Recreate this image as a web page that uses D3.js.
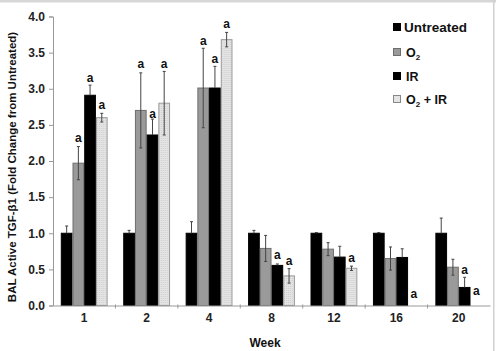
<!DOCTYPE html>
<html>
<head>
<meta charset="utf-8">
<script src="https://cdn.jsdelivr.net/npm/d3@7"></script>
<style>
  body { margin: 0; background: #fff; }
  svg { display: block; font-family: "Liberation Sans", Arial, sans-serif; font-weight: bold; }
</style>
</head>
<body>
<div id="viz"></div>
<script>
const width = 496;
const height = 351;
const margin = {top: 16.5, right: 6, bottom: 45.5, left: 53};

const weeks = ['1', '2', '4', '8', '12', '16', '20'];
const groups = ['Untreated', 'O2', 'IR', 'O2 + IR'];

// mean fold change per group, one entry per week
const untreated = [1.0, 1.0, 1.0, 1.0, 1.0, 1.0, 1.0];
const o2        = [1.97, 2.70, 3.01, 0.79, 0.78, 0.65, 0.53];
const ir        = [2.91, 2.36, 3.01, 0.555, 0.67, 0.665, 0.25];
const o2ir      = [2.60, 2.80, 3.68, 0.41, 0.515, 0, null];

// error bar half widths
const untreatedErr = [0.10, 0.04, 0.16, 0.04, 0.01, 0.01, 0.21];
const o2Err        = [0.23, 0.52, 0.55, 0.18, 0.09, 0.16, 0.11];
const irErr        = [0.14, 0.22, 0.30, 0.02, 0.15, 0.12, 0.14];
const o2irErr      = [0.06, 0.44, 0.10, 0.10, 0.03, 0, null];

// significance marks: week, bar slot, height (data units)
const sigWeek  = ['1', '1', '1', '2', '2', '2', '4', '4', '4', '8', '8', '12', '16', '20', '20'];
const sigSlot  = ['O2', 'IR', 'O2 + IR', 'O2', 'IR', 'O2 + IR', 'O2', 'IR', 'O2 + IR', 'IR', 'O2 + IR', 'O2 + IR', 'O2 + IR', 'IR', 'O2 + IR'];
const sigLevel = [2.32, 3.15, 2.78, 3.35, 2.66, 3.35, 3.67, 3.42, 3.90, 0.70, 0.62, 0.667, 0.16, 0.50, 0.205];

const yTicks = [0, 0.5, 1, 1.5, 2, 2.5, 3, 3.5, 4];

const series = [
  {name: 'Untreated', values: untreated, err: untreatedErr},
  {name: 'O2', values: o2, err: o2Err},
  {name: 'IR', values: ir, err: irErr},
  {name: 'O2 + IR', values: o2ir, err: o2irErr}
];

const fills = {'Untreated': '#000', 'O2': '#9a9a9a', 'IR': '#000', 'O2 + IR': 'url(#dots)'};
const strokes = {'Untreated': '#000', 'O2': '#6e6e6e', 'IR': '#000', 'O2 + IR': '#9a9a9a'};
const isDark = name => name === 'Untreated' || name === 'IR';

const svg = d3.select('#viz').append('svg')
  .attr('width', width)
  .attr('height', height);

// light dotted fill for O2 + IR
const pat = svg.append('defs').append('pattern')
  .attr('id', 'dots')
  .attr('width', 2).attr('height', 2)
  .attr('patternUnits', 'userSpaceOnUse');
pat.append('rect').attr('width', 2).attr('height', 2).attr('fill', '#e4e4e4');
pat.append('rect').attr('width', 1).attr('height', 1).attr('fill', '#cfcfcf');

// frame bits of the original screenshot
svg.append('rect').attr('x', 0).attr('y', 0).attr('width', width).attr('height', 2.5).attr('fill', '#d6d6d6');
svg.append('rect').attr('x', 493).attr('y', 0).attr('width', 1.5).attr('height', height).attr('fill', '#d0d0d0');

const x0 = d3.scaleBand()
  .domain(weeks)
  .range([margin.left, 490])
  .paddingInner(0.25)
  .paddingOuter(0.125);

const x1 = d3.scaleBand()
  .domain(groups)
  .range([0, x0.bandwidth()]);

const y = d3.scaleLinear()
  .domain([0, 4])
  .range([height - margin.bottom, margin.top]);

// y axis
const yAxis = svg.append('g')
  .attr('transform', `translate(${margin.left},0)`)
  .call(d3.axisLeft(y).tickValues(yTicks).tickFormat(d3.format('.1f')).tickSize(4).tickPadding(4));
yAxis.select('.domain').attr('stroke', '#999');
yAxis.selectAll('.tick line').attr('stroke', '#999');
yAxis.selectAll('.tick text').attr('font-size', 12).attr('font-weight', 'bold').attr('fill', '#222')
  .attr('font-family', '"Liberation Sans", Arial, sans-serif');

// bars
const bandStep = x0.step();
const weekG = svg.append('g').selectAll('g')
  .data(weeks)
  .join('g')
  .attr('transform', d => `translate(${x0(d)},0)`);

weekG.selectAll('rect')
  .data((w, i) => series.filter(s => s.values[i] !== null && s.values[i] > 0)
    .map(s => ({name: s.name, v: s.values[i]})))
  .join('rect')
  .attr('x', d => x1(d.name) + 0.5)
  .attr('width', x1.bandwidth() - 1)
  .attr('y', d => y(d.v))
  .attr('height', d => y(0) - y(d.v))
  .attr('fill', d => fills[d.name])
  .attr('stroke', d => strokes[d.name])
  .attr('stroke-width', 1);

// error bars (lower half hidden inside black bars)
const errs = weekG.selectAll('g.err')
  .data((w, i) => series.filter(s => s.values[i] !== null && s.err[i] > 0)
    .map(s => ({name: s.name, v: s.values[i], e: s.err[i]})))
  .join('g')
  .attr('class', 'err')
  .attr('stroke', '#444')
  .attr('stroke-width', 1);
const cx = d => x1(d.name) + x1.bandwidth() / 2;
errs.append('line')
  .attr('x1', cx).attr('x2', cx)
  .attr('y1', d => isDark(d.name) ? y(d.v) : y(d.v - d.e))
  .attr('y2', d => y(d.v + d.e));
errs.append('line')
  .attr('x1', d => cx(d) - 1.5)
  .attr('x2', d => cx(d) + 1.5)
  .attr('y1', d => y(d.v + d.e))
  .attr('y2', d => y(d.v + d.e));
errs.filter(d => !isDark(d.name)).append('line')
  .attr('x1', d => cx(d) - 1.5)
  .attr('x2', d => cx(d) + 1.5)
  .attr('y1', d => y(d.v - d.e))
  .attr('y2', d => y(d.v - d.e));

// x axis
const xAxis = svg.append('g')
  .attr('transform', `translate(0,${y(0)})`)
  .call(d3.axisBottom(x0).tickSize(0).tickPadding(8));
xAxis.select('.domain').attr('stroke', '#999');
xAxis.selectAll('.tick text').attr('font-size', 12).attr('font-weight', 'bold').attr('fill', '#222')
  .attr('font-family', '"Liberation Sans", Arial, sans-serif');
xAxis.selectAll('line.sep')
  .data(weeks.slice(1))
  .join('line')
  .attr('class', 'sep')
  .attr('x1', d => x0(d) - bandStep * 0.125)
  .attr('x2', d => x0(d) - bandStep * 0.125)
  .attr('y1', -1).attr('y2', 3)
  .attr('stroke', '#999');

// significance letters
svg.append('g').selectAll('text')
  .data(sigWeek.map((w, i) => ({w: w, slot: sigSlot[i], level: sigLevel[i]})))
  .join('text')
  .attr('x', d => x0(d.w) + x1(d.slot) + x1.bandwidth() / 2)
  .attr('y', d => y(d.level))
  .attr('dy', '0.35em')
  .attr('text-anchor', 'middle')
  .attr('font-size', 12)
  .attr('fill', '#111')
  .text('a');

// axis titles
svg.append('text')
  .attr('x', 265)
  .attr('y', 347)
  .attr('text-anchor', 'middle')
  .attr('font-size', 12)
  .attr('fill', '#111')
  .text('Week');

svg.append('text')
  .attr('transform', 'translate(16,167) rotate(-90)')
  .attr('text-anchor', 'middle')
  .attr('font-size', 11.5)
  .attr('fill', '#111')
  .text('BAL Active TGF-β1 (Fold Change from Untreated)');

// legend
const legendY = [27, 52, 76, 99];
const legend = svg.append('g').selectAll('g')
  .data(series)
  .join('g')
  .attr('transform', (d, i) => `translate(393,${legendY[i]})`);
legend.append('rect')
  .attr('x', 0.5).attr('y', -3.5)
  .attr('width', 7).attr('height', 7)
  .attr('fill', d => d.name === 'O2 + IR' ? '#e4e4e4' : fills[d.name])
  .attr('stroke', d => d.name === 'O2 + IR' ? '#888' : strokes[d.name]);
const legendText = legend.append('text')
  .attr('x', (d, i) => i === 0 ? 11 : 13)
  .attr('dy', '0.36em')
  .attr('font-size', (d, i) => i === 0 ? 13.5 : 12.5)
  .attr('fill', '#111');
legendText.each(function(d) {
  const t = d3.select(this);
  if (d.name.startsWith('O2')) {
    t.append('tspan').text('O');
    t.append('tspan').attr('font-size', 8).attr('dy', 3).text('2');
    if (d.name !== 'O2') t.append('tspan').attr('dy', -3).text(' + IR');
  } else {
    t.text(d.name);
  }
});
</script>
</body>
</html>
